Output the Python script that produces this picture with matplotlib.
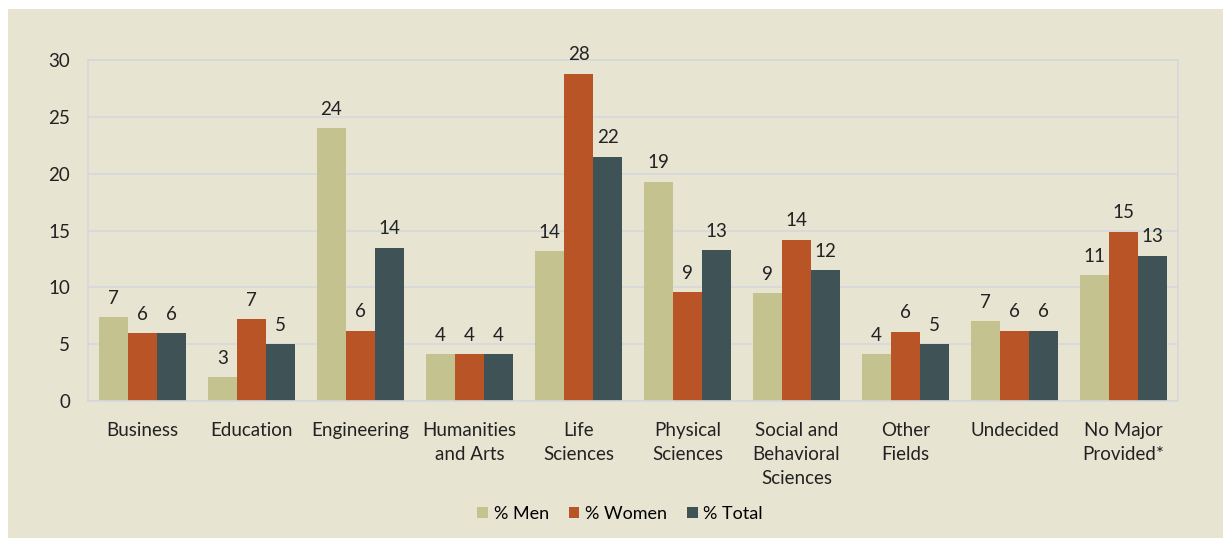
import numpy as np
import matplotlib.pyplot as plt
from matplotlib.patches import Rectangle

plt.rcParams['font.family'] = ['Lato', 'DejaVu Sans']

categories = ['Business', 'Education', 'Engineering', 'Humanities\nand Arts', 'Life\nSciences',
              'Physical\nSciences', 'Social and\nBehavioral\nSciences', 'Other\nFields',
              'Undecided', 'No Major\nProvided*']

# bar heights as drawn, and the rounded labels printed above them
men = [7.4, 2.1, 24.0, 4.1, 13.2, 19.3, 9.5, 4.1, 7.0, 11.1]
women = [6.0, 7.2, 6.2, 4.1, 28.8, 9.6, 14.2, 6.1, 6.2, 14.9]
total = [6.0, 5.0, 13.5, 4.1, 21.5, 13.3, 11.5, 5.0, 6.2, 12.8]
men_lbl = [7, 3, 24, 4, 14, 19, 9, 4, 7, 11]
women_lbl = [6, 7, 6, 4, 28, 9, 14, 6, 6, 15]
total_lbl = [6, 5, 14, 4, 22, 13, 12, 5, 6, 13]

series = [('% Men', men, men_lbl, '#C4C28F'),
          ('% Women', women, women_lbl, '#B95427'),
          ('% Total', total, total_lbl, '#3F5356')]

bg = '#E7E4D2'
fig = plt.figure(figsize=(12.23, 5.38), dpi=100, facecolor='white')
fig.patches.append(Rectangle((8 / 1223, 0), 1 - 8 / 1223, 1 - 9 / 538,
                             transform=fig.transFigure, facecolor=bg, edgecolor='none', zorder=-10))

ax = fig.add_axes([88 / 1223, 137 / 538, 1090 / 1223, 341 / 538])
ax.set_facecolor(bg)

x = np.arange(len(categories))
w = 0.267
for i, (name, vals, lbls, col) in enumerate(series):
    pos = x + (i - 1) * w
    ax.bar(pos, vals, w, color=col, label=name, zorder=2)
    for p, v, l in zip(pos, vals, lbls):
        ax.text(p, v + 0.9, str(l), ha='center', va='bottom', fontsize=13.5, color='#222222')

ax.set_xlim(-0.5, len(categories) - 0.5)
ax.set_ylim(0, 30)
ax.set_yticks(range(0, 31, 5))
ax.yaxis.grid(True, color='#D5D8DC', linewidth=1.2, zorder=0)
ax.set_axisbelow(True)
for s in ax.spines.values():
    s.set_color('#D5D8DC')
    s.set_linewidth(1.2)
ax.tick_params(length=0, labelsize=13.5, colors='#222222')
ax.tick_params(axis='y', pad=13)
ax.tick_params(axis='x', pad=15)
ax.set_xticks(x)
ax.set_xticklabels(categories, linespacing=1.5)

fig.legend(loc='center', bbox_to_anchor=(620 / 1223, 0.045), ncol=3, frameon=False,
           fontsize=13, handlelength=0.6, handleheight=0.6, handletextpad=0.3,
           columnspacing=1.1)

fig.savefig('out.png', dpi=100, facecolor=fig.get_facecolor())
